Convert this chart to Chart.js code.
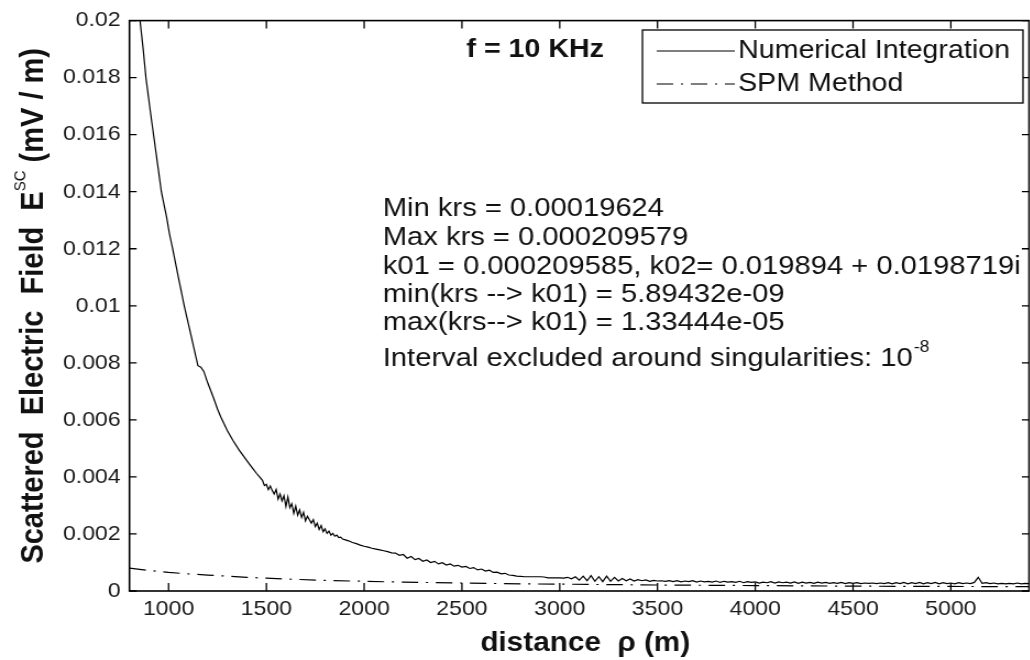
<!DOCTYPE html>
<html>
<head>
<meta charset="utf-8">
<script src="https://cdn.jsdelivr.net/npm/chart.js@4.4.1/dist/chart.umd.min.js"></script>
<style>
  html, body { margin: 0; padding: 0; background: #fff; overflow: hidden; width: 1030px; height: 660px; }
  /* the reference figure is a slightly stretched bitmap, so stretch the canvas the same way */
  #wrap { position: absolute; left: 0; top: 0; transform: scaleX(1.1); transform-origin: 0 0; }
  canvas { display: block; }
</style>
</head>
<body>
<div id="wrap"><canvas id="fieldCtx" width="946" height="660"></canvas></div>
<script>
// x: distance rho (m), y: scattered field (mV/m)
const xTickValues = [1000, 1500, 2000, 2500, 3000, 3500, 4000, 4500, 5000];
const xTickLabels = ['1000', '1500', '2000', '2500', '3000', '3500', '4000', '4500', '5000'];
const yTickValues = [0, 0.002, 0.004, 0.006, 0.008, 0.01, 0.012, 0.014, 0.016, 0.018, 0.02];
const yTickLabels = ['0', '0.002', '0.004', '0.006', '0.008', '0.01', '0.012', '0.014', '0.016', '0.018', '0.02'];

// Numerical Integration
const niDistance = [
  800, 830, 854, 870, 884, 905, 925, 945, 963, 990,
  1005, 1021, 1050, 1080, 1110, 1130, 1150, 1165, 1180, 1200,
  1228, 1250, 1267, 1300, 1330, 1360, 1400, 1430, 1450, 1465,
  1480, 1490, 1500, 1510, 1520, 1530, 1540, 1550, 1560, 1570,
  1580, 1590, 1600, 1610, 1620, 1630, 1640, 1650, 1660, 1670,
  1680, 1690, 1700, 1710, 1720, 1730, 1740, 1750, 1760, 1770,
  1780, 1790, 1800, 1810, 1820, 1830, 1840, 1850, 1860, 1870,
  1880, 1890, 1900, 1920, 1940, 1960, 1980, 2000, 2020, 2040, 2060,
  2080, 2100, 2120, 2140, 2160, 2180, 2200, 2220, 2240, 2260,
  2280, 2300, 2320, 2340, 2360, 2380, 2400, 2420, 2440, 2460,
  2480, 2500, 2520, 2540, 2560, 2580, 2600, 2620, 2640, 2660,
  2680, 2700, 2720, 2740, 2760, 2780, 2800, 2820, 2840, 2860,
  2880, 2900, 2920, 2940, 2960, 2980, 3000, 3020, 3040, 3060,
  3080, 3100, 3120, 3140, 3160, 3180, 3200, 3220, 3240, 3260,
  3280, 3300, 3320, 3340, 3360, 3380, 3400, 3420, 3440, 3460,
  3480, 3500, 3520, 3540, 3560, 3580, 3600, 3620, 3640, 3660,
  3680, 3700, 3720, 3740, 3760, 3780, 3800, 3820, 3840, 3860,
  3880, 3900, 3920, 3940, 3960, 3980, 4000, 4020, 4040, 4060,
  4080, 4100, 4120, 4140, 4160, 4180, 4200, 4220, 4240, 4260,
  4280, 4300, 4320, 4340, 4360, 4380, 4400, 4420, 4440, 4460,
  4480, 4500, 4520, 4540, 4560, 4580, 4600, 4620, 4640, 4660,
  4680, 4700, 4720, 4740, 4760, 4780, 4800, 4820, 4840, 4860,
  4880, 4900, 4920, 4940, 4960, 4980, 5000, 5020, 5040, 5060,
  5080, 5100, 5120, 5140, 5160, 5180, 5200, 5220, 5240, 5260,
  5280, 5300, 5320, 5340, 5360, 5380, 5400
];
const niField = [
  0.0232, 0.0215, 0.0200, 0.0190, 0.0180, 0.0169, 0.0159, 0.0149, 0.0140, 0.0131,
  0.0125, 0.0120, 0.0110, 0.0100, 0.0091, 0.0085, 0.0079, 0.00785, 0.0077, 0.0073,
  0.0068, 0.00638, 0.0061, 0.00563, 0.00527, 0.00495, 0.00457, 0.00430, 0.00412, 0.00400,
  0.00388, 0.00370, 0.00374, 0.00355, 0.00368, 0.00352, 0.00340, 0.00356, 0.00322, 0.00340,
  0.00316, 0.00334, 0.00296, 0.00330, 0.00292, 0.00306, 0.00272, 0.00298, 0.00266, 0.00284,
  0.00258, 0.00276, 0.00246, 0.00262, 0.00250, 0.00238, 0.00250, 0.00226, 0.00238, 0.00216,
  0.00230, 0.00208, 0.00218, 0.00202, 0.00210, 0.00196, 0.00202, 0.00192, 0.00196, 0.00187,
  0.00189, 0.00182, 0.00180, 0.00176, 0.00170, 0.00166, 0.00161, 0.00157, 0.00154, 0.00150, 0.00147,
  0.00144, 0.00141, 0.00138, 0.00134, 0.00133, 0.00125, 0.00128, 0.00115, 0.00121, 0.00110,
  0.00114, 0.00104, 0.00109, 0.00100, 0.00104, 0.00095, 0.00099, 0.00091, 0.00095, 0.00087,
  0.00090, 0.00084, 0.00086, 0.00079, 0.00082, 0.00074, 0.00077, 0.00070, 0.00073, 0.00065,
  0.00066, 0.00060, 0.00062, 0.00056, 0.00055, 0.00052, 0.00051, 0.00050, 0.00050, 0.00050,
  0.00050, 0.00050, 0.00049, 0.00046, 0.00046, 0.00046, 0.00046, 0.00045, 0.00048, 0.00043,
  0.00050, 0.00038, 0.00052, 0.00036, 0.00054, 0.00034, 0.00050, 0.00033, 0.00052, 0.00034,
  0.00048, 0.00035, 0.00044, 0.00036, 0.00042, 0.00035, 0.00040, 0.00036, 0.00039, 0.00034,
  0.00037, 0.00035, 0.00036, 0.00034, 0.00036, 0.00033, 0.00036, 0.00032, 0.00035, 0.00033,
  0.00036, 0.00031, 0.00035, 0.00032, 0.00034, 0.00031, 0.00035, 0.00030, 0.00034, 0.00031,
  0.00033, 0.00030, 0.00034, 0.00029, 0.00033, 0.00030, 0.00032, 0.00028, 0.00031, 0.00029,
  0.00033, 0.00028, 0.00032, 0.00029, 0.00031, 0.00028, 0.00032, 0.00027, 0.00031, 0.00028,
  0.00030, 0.00027, 0.00031, 0.00028, 0.00030, 0.00027, 0.00029, 0.00027, 0.00030, 0.00026,
  0.00029, 0.00027, 0.00029, 0.00026, 0.00028, 0.00027, 0.00028, 0.00026, 0.00028, 0.00026,
  0.00029, 0.00025, 0.00029, 0.00026, 0.00030, 0.00025, 0.00029, 0.00026, 0.00030, 0.00025,
  0.00029, 0.00026, 0.00030, 0.00025, 0.00029, 0.00026, 0.00028, 0.00025, 0.00029, 0.00026,
  0.00028, 0.00026, 0.00030, 0.00048, 0.00027, 0.00029, 0.00026, 0.00028, 0.00025, 0.00027,
  0.00025, 0.00027, 0.00025, 0.00028, 0.00025, 0.00027, 0.00026
];

// SPM Method
const spmDistance = [800, 900, 1000, 1100, 1200, 1300, 1400, 1500, 1600, 1800, 2000, 2200, 2500, 2800, 3000, 3500, 4000, 4500, 5000, 5400];
const spmField = [0.00080, 0.00072, 0.00065, 0.00060, 0.00056, 0.00052, 0.00048, 0.00045, 0.00042, 0.00037, 0.00034, 0.00031, 0.00028, 0.00025, 0.00024, 0.00021, 0.00019, 0.00017, 0.00016, 0.00015];

const seriesNames = ['Numerical Integration', 'SPM Method'];
const infoLines = [
  'Min krs = 0.00019624',
  'Max krs = 0.000209579',
  'k01 = 0.000209585, k02= 0.019894 + 0.0198719i',
  'min(krs --> k01) = 5.89432e-09',
  'max(krs--> k01) = 1.33444e-05'
];

const FONT = '"Liberation Sans", Arial, sans-serif';
const spmDash = [15, 7, 2, 7];

function toPoints(xs, ys) {
  return xs.map((x, i) => ({ x: x, y: ys[i] }));
}

/// draws the matlab style box, inward ticks, legend, text and axis titles
const matlabFrame = {
  id: 'matlabFrame',
  afterDatasetsDraw(chart) {
    const { ctx, chartArea: a, scales } = chart;
    const xs = scales.x, ys = scales.y;
    ctx.save();

    // box + inward ticks on all four sides
    ctx.strokeStyle = '#000';
    ctx.lineWidth = 1.6;
    ctx.strokeRect(a.left, a.top, a.right - a.left, a.bottom - a.top);
    ctx.lineWidth = 1.3;
    ctx.beginPath();
    xTickValues.forEach(v => {
      const px = xs.getPixelForValue(v);
      ctx.moveTo(px, a.bottom); ctx.lineTo(px, a.bottom - 8);
      ctx.moveTo(px, a.top); ctx.lineTo(px, a.top + 8);
    });
    yTickValues.forEach(v => {
      const py = ys.getPixelForValue(v);
      ctx.moveTo(a.left, py); ctx.lineTo(a.left + 6.5, py);
      ctx.moveTo(a.right, py); ctx.lineTo(a.right - 6.5, py);
    });
    ctx.stroke();

    // legend
    ctx.fillStyle = '#fff';
    ctx.fillRect(584, 30, 346, 73);
    ctx.lineWidth = 1.3;
    ctx.strokeRect(584, 30, 346, 73);
    ctx.lineWidth = 1.2;
    ctx.beginPath(); ctx.moveTo(597, 51); ctx.lineTo(668, 51); ctx.stroke();
    ctx.setLineDash(spmDash);
    ctx.beginPath(); ctx.moveTo(597, 84); ctx.lineTo(668, 84); ctx.stroke();
    ctx.setLineDash([]);
    ctx.fillStyle = '#111';
    ctx.font = '26px ' + FONT;
    ctx.textBaseline = 'middle';
    ctx.textAlign = 'left';
    ctx.fillText(seriesNames[0], 671, 51);
    ctx.fillText(seriesNames[1], 671, 84);

    // frequency label
    ctx.font = 'bold 26px ' + FONT;
    ctx.fillText('f = 10 KHz', 424, 50);

    // info text
    ctx.font = '26.5px ' + FONT;
    const lineY = [209, 238, 267, 295, 323];
    infoLines.forEach((t, i) => ctx.fillText(t, 348, lineY[i]));
    const base = 'Interval excluded around singularities: 10';
    ctx.fillText(base, 348, 359);
    const bw = ctx.measureText(base).width;
    ctx.font = '16px ' + FONT;
    ctx.fillText('-8', 348 + bw + 1, 348);

    // x title
    ctx.font = 'bold 27px ' + FONT;
    ctx.textAlign = 'center';
    ctx.textBaseline = 'alphabetic';
    ctx.fillText('distance  \u03c1 (m)', 532, 651);

    // y title with superscript
    ctx.translate(31, (a.top + a.bottom) / 2);
    ctx.rotate(-Math.PI / 2);
    const parts = [
      { t: 'Scattered  Electric  Field  E', f: 'bold 29px ' + FONT, dy: 0 },
      { t: 'SC', f: '15px ' + FONT, dy: -12 },
      { t: ' (mV / m)', f: 'bold 29px ' + FONT, dy: 0 }
    ];
    let total = 0;
    parts.forEach(p => { ctx.font = p.f; p.w = ctx.measureText(p.t).width; total += p.w; });
    let cx = -total / 2;
    ctx.textAlign = 'left';
    ctx.textBaseline = 'middle';
    parts.forEach(p => { ctx.font = p.f; ctx.fillText(p.t, cx, p.dy); cx += p.w; });

    ctx.restore();
  }
};

const fieldCtx = document.getElementById('fieldCtx');

var fieldChart = new Chart(fieldCtx, {
  type: 'line',
  data: {
    datasets: [{
      label: seriesNames[0],
      data: toPoints(niDistance, niField),
      borderColor: '#000',
      borderWidth: 1.2,
      pointRadius: 0,
      tension: 0
    }, {
      label: seriesNames[1],
      data: toPoints(spmDistance, spmField),
      borderColor: '#000',
      borderWidth: 1.2,
      borderDash: spmDash,
      pointRadius: 0,
      tension: 0
    }]
  },
  options: {
    responsive: false,
    animation: false,
    devicePixelRatio: 1,
    layout: { padding: { left: 0, top: 20.5, right: 10.5, bottom: 0 } },
    plugins: { legend: { display: false }, tooltip: { enabled: false } },
    scales: {
      x: {
        type: 'linear',
        min: 800,
        max: 5400,
        grid: { display: false, drawTicks: false },
        border: { display: false },
        afterBuildTicks: scale => { scale.ticks = xTickValues.map(v => ({ value: v })); },
        afterFit: scale => { scale.height = 69; },
        ticks: {
          color: '#1a1a1a',
          font: { family: FONT, size: 21 },
          padding: 6,
          maxRotation: 0,
          callback: (v, i) => xTickLabels[i]
        }
      },
      y: {
        min: 0,
        max: 0.02,
        grid: { display: false, drawTicks: false },
        border: { display: false },
        afterBuildTicks: scale => { scale.ticks = yTickValues.map(v => ({ value: v })); },
        afterFit: scale => { scale.width = 117.7; },
        ticks: {
          color: '#1a1a1a',
          font: { family: FONT, size: 21 },
          padding: 8,
          callback: (v, i) => yTickLabels[i]
        }
      }
    }
  },
  plugins: [matlabFrame]
});
</script>
</body>
</html>
